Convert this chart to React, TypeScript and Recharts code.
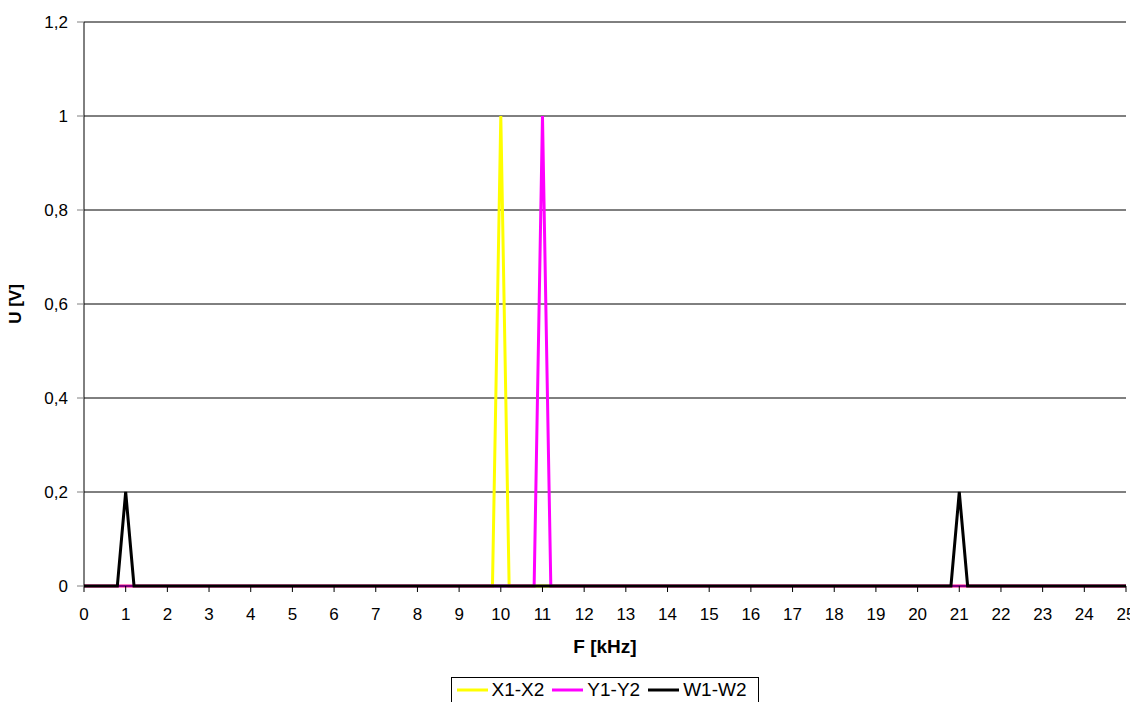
import React from "react";
import {
  LineChart, Line, XAxis, YAxis, CartesianGrid, Legend, Label
} from "recharts";

// frequency [kHz] / voltage [V] pairs
const X1X2_F = [0, 9.8, 10, 10.2, 25];
const X1X2_U = [0, 0, 1, 0, 0];

const Y1Y2_F = [0, 10.8, 11, 11.2, 25];
const Y1Y2_U = [0, 0, 1, 0, 0];

const W1W2_F = [0, 0.8, 1, 1.2, 20.8, 21, 21.2, 25];
const W1W2_U = [0, 0, 0.2, 0, 0, 0.2, 0, 0];

const F_TICKS = [0, 1, 2, 3, 4, 5, 6, 7, 8, 9, 10, 11, 12, 13, 14, 15, 16, 17, 18, 19, 20, 21, 22, 23, 24, 25];
const U_TICKS = [0, 0.2, 0.4, 0.6, 0.8, 1, 1.2];

const SERIES = [
  { name: "X1-X2", f: X1X2_F, u: X1X2_U, color: "#FFFF00" },
  { name: "Y1-Y2", f: Y1Y2_F, u: Y1Y2_U, color: "#FF00FF" },
  { name: "W1-W2", f: W1W2_F, u: W1W2_U, color: "#000000" },
];

const FONT = "'Liberation Sans', Arial, sans-serif";

const toRows = (f: number[], u: number[]) => f.map((v, i) => ({ f: v, u: u[i] }));

const LegendBox = () => (
  <div style={{ display: "flex", justifyContent: "center" }}>
    <div
      style={{
        display: "flex",
        alignItems: "center",
        border: "1px solid #000",
        borderBottom: "none",
        height: 25,
        padding: "0 4px 0 5px",
        fontFamily: FONT,
        fontSize: 19,
        color: "#000",
        background: "#fff",
        boxSizing: "border-box",
      }}
    >
      {SERIES.map((s) => (
        <div key={s.name} style={{ display: "flex", alignItems: "center", marginRight: 8 }}>
          <svg width={31} height={4} style={{ marginRight: 4 }}>
            <line x1={0} y1={2} x2={31} y2={2} stroke={s.color} strokeWidth={3} />
          </svg>
          <span>{s.name}</span>
        </div>
      ))}
    </div>
  </div>
);

export default function App() {
  return (
    <div style={{ width: 1130, height: 694, fontFamily: FONT }}>
      <style>{"html,body{overflow:hidden}"}</style>
      <LineChart width={1130} height={694} margin={{ top: 14, right: 12, bottom: 0, left: 0 }}>
        <CartesianGrid vertical={false} stroke="#000" strokeWidth={1} />
        <XAxis
          type="number"
          dataKey="f"
          domain={[0, 25]}
          ticks={F_TICKS}
          interval={0}
          height={91}
          allowDuplicatedCategory={false}
          axisLine={{ stroke: "#000", strokeWidth: 1 }}
          tickLine={{ stroke: "#000" }}
          tickSize={6}
          tickMargin={16}
          tick={{ fill: "#000", fontSize: 17, fontFamily: FONT }}
        >
          <Label
            content={(props: any) => {
              const vb = props.viewBox || { x: 76, y: 578, width: 1042, height: 91 };
              return (
                <text
                  x={vb.x + vb.width / 2}
                  y={vb.y + 60}
                  textAnchor="middle"
                  dominantBaseline="central"
                  fontFamily={FONT}
                  fontSize={19}
                  fontWeight="bold"
                  fill="#000"
                >
                  F [kHz]
                </text>
              );
            }}
          />
        </XAxis>
        <YAxis
          type="number"
          domain={[0, 1.2]}
          ticks={U_TICKS}
          width={76}
          axisLine={{ stroke: "#000", strokeWidth: 1 }}
          tickLine={{ stroke: "#808080" }}
          tickSize={7}
          tickMargin={9}
          tickFormatter={(v: number) => String(v).replace(".", ",")}
          tick={{ fill: "#000", fontSize: 17, fontFamily: FONT }}
        >
          <Label
            content={(props: any) => {
              const vb = props.viewBox || { x: 0, y: 14, width: 76, height: 564 };
              const cx = vb.x + 7;
              const cy = vb.y + vb.height / 2;
              return (
                <text
                  x={cx}
                  y={cy}
                  transform={`rotate(-90 ${cx} ${cy})`}
                  textAnchor="middle"
                  dominantBaseline="central"
                  fontFamily={FONT}
                  fontSize={17}
                  fontWeight="bold"
                  fill="#000"
                >
                  U [V]
                </text>
              );
            }}
          />
        </YAxis>
        <Legend
          verticalAlign="bottom"
          height={25}
          wrapperStyle={{ left: 76, width: 1042 }}
          content={() => <LegendBox />}
        />
        {SERIES.map((s) => (
          <Line
            key={s.name}
            name={s.name}
            data={toRows(s.f, s.u)}
            dataKey="u"
            type="linear"
            stroke={s.color}
            strokeWidth={3}
            dot={false}
            activeDot={false}
            isAnimationActive={false}
          />
        ))}
      </LineChart>
    </div>
  );
}
